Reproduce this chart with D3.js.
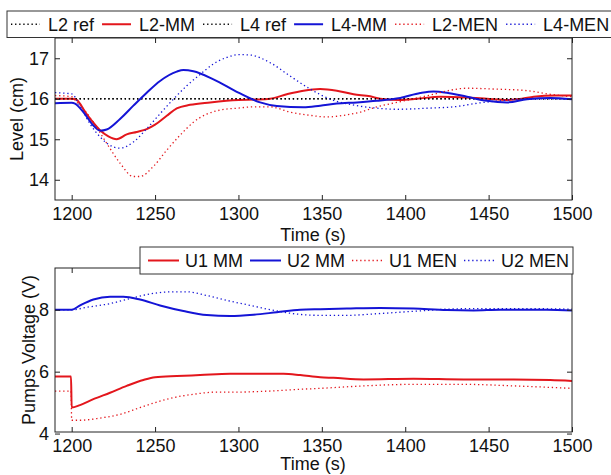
<!DOCTYPE html>
<html>
<head>
<meta charset="utf-8">
<script src="https://cdn.jsdelivr.net/npm/d3@7"></script>
<style>
  body { margin: 0; background: #fff; }
  svg { display: block; font-family: "Liberation Sans", Arial, sans-serif; }
</style>
</head>
<body>
<svg id="chart" width="611" height="475"></svg>
<script>
// Two stacked panels: tank levels and pump voltages, MM vs MEN controllers.

const timeTicks = [1200, 1250, 1300, 1350, 1400, 1450, 1500];
const levelTicks = [14, 15, 16, 17];
const voltTicks = [4, 6, 8];

// top panel series, [time (s), level (cm)]
const l2Ref = [[1190, 16], [1500, 16]];
const l4Ref = [[1190, 16], [1500, 16]];
const l2MM = [[1190, 16.0], [1200, 16.0], [1203, 15.97], [1208, 15.68], [1212, 15.46], [1217, 15.22],
  [1222, 15.07], [1227, 15.0], [1233, 15.12], [1239, 15.18], [1245, 15.25], [1250, 15.36],
  [1257, 15.58], [1263, 15.76], [1271, 15.85], [1283, 15.91], [1300, 15.97], [1310, 15.98],
  [1319, 16.0], [1329, 16.11], [1339, 16.2], [1349, 16.24], [1359, 16.2], [1369, 16.11],
  [1379, 16.06], [1385, 16.0], [1397, 15.97], [1407, 16.0], [1421, 16.05], [1437, 16.03],
  [1449, 16.0], [1461, 15.97], [1470, 16.0], [1477, 16.05], [1490, 16.08], [1500, 16.08]];
const l4MM = [[1190, 15.89], [1200, 15.9], [1202, 15.88], [1207, 15.67], [1213, 15.34], [1217, 15.21],
  [1221, 15.24], [1229, 15.5], [1237, 15.83], [1245, 16.15], [1253, 16.44], [1263, 16.67],
  [1267, 16.71], [1273, 16.68], [1285, 16.48], [1300, 16.15], [1313, 15.91], [1323, 15.82],
  [1339, 15.79], [1349, 15.83], [1359, 15.88], [1371, 15.91], [1383, 15.95], [1397, 16.02],
  [1409, 16.14], [1417, 16.18], [1425, 16.15], [1437, 16.05], [1449, 15.95], [1461, 15.91],
  [1473, 15.99], [1487, 16.02], [1500, 15.99]];
const l2MEN = [[1190, 16.08], [1200, 16.05], [1203, 15.92], [1208, 15.7], [1213, 15.42], [1221, 14.9],
  [1229, 14.41], [1237, 14.08], [1241, 14.08], [1249, 14.33], [1257, 14.73], [1265, 15.1],
  [1273, 15.42], [1281, 15.62], [1289, 15.72], [1300, 15.77], [1309, 15.8], [1319, 15.8],
  [1331, 15.67], [1343, 15.59], [1353, 15.55], [1363, 15.59], [1373, 15.67], [1383, 15.8],
  [1395, 15.91], [1405, 16.0], [1417, 16.11], [1427, 16.21], [1437, 16.26], [1453, 16.24],
  [1473, 16.2], [1487, 16.11], [1500, 16.05]];
const l4MEN = [[1190, 16.15], [1200, 16.12], [1205, 15.82], [1211, 15.38], [1217, 15.06], [1225, 14.81],
  [1229, 14.78], [1237, 14.93], [1245, 15.26], [1253, 15.63], [1261, 15.99], [1269, 16.32],
  [1277, 16.6], [1285, 16.86], [1293, 17.02], [1300, 17.09], [1307, 17.08], [1319, 16.89],
  [1331, 16.56], [1343, 16.24], [1355, 15.99], [1371, 15.83], [1385, 15.76], [1395, 15.74],
  [1415, 15.77], [1429, 15.8], [1445, 15.9], [1457, 15.95], [1475, 16.0], [1500, 16.0]];

// bottom panel series, [time (s), voltage (V)]
const u1MM = [[1190, 5.84], [1199.6, 5.84], [1200, 4.84], [1205, 4.92], [1213, 5.11], [1223, 5.32],
  [1233, 5.54], [1243, 5.73], [1250, 5.82], [1263, 5.86], [1277, 5.89], [1295, 5.93],
  [1313, 5.93], [1327, 5.93], [1337, 5.89], [1349, 5.82], [1357, 5.8], [1375, 5.75],
  [1405, 5.77], [1435, 5.75], [1465, 5.75], [1487, 5.73], [1500, 5.7]];
const u2MM = [[1190, 8.0], [1200, 8.0], [1205, 8.14], [1213, 8.33], [1223, 8.42], [1231, 8.42],
  [1241, 8.33], [1253, 8.14], [1267, 7.96], [1281, 7.83], [1295, 7.8], [1309, 7.84],
  [1323, 7.92], [1337, 8.0], [1349, 8.02], [1365, 8.04], [1385, 8.06], [1405, 8.04],
  [1425, 7.99], [1441, 7.98], [1457, 8.0], [1485, 8.0], [1500, 7.98]];
const u1MEN = [[1190, 5.37], [1199.6, 5.37], [1200, 4.43], [1205, 4.43], [1217, 4.5], [1229, 4.62],
  [1241, 4.84], [1250, 5.0], [1261, 5.16], [1273, 5.27], [1287, 5.34], [1300, 5.34],
  [1317, 5.37], [1337, 5.43], [1349, 5.46], [1375, 5.54], [1405, 5.59], [1435, 5.59],
  [1465, 5.54], [1500, 5.46]];
const u2MEN = [[1190, 8.0], [1200, 8.0], [1209, 8.08], [1223, 8.2], [1237, 8.39], [1249, 8.53],
  [1261, 8.58], [1269, 8.58], [1281, 8.46], [1295, 8.28], [1309, 8.12], [1323, 7.96],
  [1337, 7.85], [1349, 7.82], [1365, 7.82], [1385, 7.88], [1405, 7.95], [1425, 8.02],
  [1445, 8.04], [1465, 8.04], [1500, 8.02]];

const RED = '#e3161c';
const BLUE = '#1414d6';
const DOT = '1.3,2.8';
const FONT = 18;
const fmt = d3.format('d');

const svg = d3.select('#chart');
svg.append('rect').attr('width', 611).attr('height', 475).attr('fill', '#fff');

function drawPanel(p) {
  const x = d3.scaleLinear().domain([1190, 1500]).range([55, 572]);
  const y = d3.scaleLinear().domain(p.yDomain).range([p.bottom, p.top]);
  const g = svg.append('g');

  const clipId = 'clip-' + p.id;
  svg.append('clipPath').attr('id', clipId)
    .append('rect').attr('x', 55).attr('y', p.top).attr('width', 517).attr('height', p.bottom - p.top);

  const line = d3.line().x(d => x(d[0])).y(d => y(d[1])).curve(d3.curveMonotoneX);
  const plot = g.append('g').attr('clip-path', `url(#${clipId})`);
  p.series.forEach(s => {
    plot.append('path')
      .attr('d', line(s.data))
      .attr('fill', 'none')
      .attr('stroke', s.color)
      .attr('stroke-width', s.dotted ? 1.3 : 2)
      .attr('stroke-dasharray', s.dotted ? DOT : null)
      .attr('stroke-linejoin', 'round');
  });

  // box and inward ticks on all four sides
  const axisColor = '#222';
  const bottomAxis = d3.axisBottom(x).tickValues(timeTicks).tickFormat(fmt).tickSizeInner(-5).tickSizeOuter(0).tickPadding(7);
  const topAxis = d3.axisTop(x).tickValues(timeTicks).tickSizeInner(-5).tickSizeOuter(0).tickFormat('');
  const leftAxis = d3.axisLeft(y).tickValues(p.yTicks).tickFormat(fmt).tickSizeInner(-5).tickSizeOuter(0).tickPadding(6);
  const rightAxis = d3.axisRight(y).tickValues(p.yTicks).tickSizeInner(-5).tickSizeOuter(0).tickFormat('');

  g.append('g').attr('transform', `translate(0,${p.bottom})`).call(bottomAxis);
  g.append('g').attr('transform', `translate(0,${p.top})`).call(topAxis);
  g.append('g').attr('transform', 'translate(55,0)').call(leftAxis);
  g.append('g').attr('transform', 'translate(572,0)').call(rightAxis);
  g.selectAll('.domain').remove();
  g.selectAll('.tick line').attr('stroke', axisColor);
  g.selectAll('.tick text').attr('font-size', FONT).attr('font-family', 'Liberation Sans, Arial, sans-serif').attr('fill', '#111');
  g.append('rect')
    .attr('x', 55).attr('y', p.top).attr('width', 517).attr('height', p.bottom - p.top)
    .attr('fill', 'none').attr('stroke', axisColor).attr('stroke-width', 1);

  g.append('text')
    .attr('x', 313).attr('y', p.xLabelY)
    .attr('text-anchor', 'middle').attr('font-size', FONT).attr('fill', '#111')
    .text('Time (s)');
  g.append('text')
    .attr('transform', `translate(${p.yLabelX},${(p.top + p.bottom) / 2}) rotate(-90)`)
    .attr('text-anchor', 'middle').attr('font-size', FONT).attr('fill', '#111')
    .text(p.yLabel);

  // legend, laid out left to right from measured text widths
  const lg = svg.append('g');
  const box = lg.append('rect')
    .attr('x', p.legend.x).attr('y', p.legend.y).attr('height', p.legend.h)
    .attr('fill', '#fff').attr('stroke', '#333').attr('stroke-width', 1);
  let cx = p.legend.x + p.legend.pad;
  const midY = p.legend.y + p.legend.h / 2;
  p.series.forEach(s => {
    lg.append('line')
      .attr('x1', cx).attr('x2', cx + p.legend.sample)
      .attr('y1', midY).attr('y2', midY)
      .attr('stroke', s.color)
      .attr('stroke-width', s.dotted ? 1.3 : 2)
      .attr('stroke-dasharray', s.dotted ? DOT : null);
    cx += p.legend.sample + p.legend.gap1;
    const t = lg.append('text')
      .attr('x', cx).attr('y', midY + 6.5)
      .attr('font-size', FONT).attr('fill', '#111')
      .text(s.name);
    cx += t.node().getComputedTextLength() + p.legend.gap2;
  });
  box.attr('width', p.legend.w || (cx - p.legend.x));
}

drawPanel({
  id: 'level', top: 38, bottom: 200, yDomain: [13.5, 17.5], yTicks: levelTicks,
  yLabel: 'Level (cm)', yLabelX: 23, xLabelY: 241,
  legend: { x: 7, y: 11, h: 26.5, w: 620, pad: 4, sample: 29, gap1: 8, gap2: 8 },
  series: [
    { name: 'L2 ref', data: l2Ref, color: '#000', dotted: true },
    { name: 'L2-MM', data: l2MM, color: RED, dotted: false },
    { name: 'L4 ref', data: l4Ref, color: '#000', dotted: true },
    { name: 'L4-MM', data: l4MM, color: BLUE, dotted: false },
    { name: 'L2-MEN', data: l2MEN, color: RED, dotted: true },
    { name: 'L4-MEN', data: l4MEN, color: BLUE, dotted: true }
  ]
});

drawPanel({
  id: 'volt', top: 268, bottom: 432, yDomain: [4.05, 9.35], yTicks: voltTicks,
  yLabel: 'Pumps Voltage (V)', yLabelX: 35, xLabelY: 470,
  legend: { x: 140, y: 247, h: 27, w: 433, pad: 8, sample: 31, gap1: 6, gap2: 7 },
  series: [
    { name: 'U1 MM', data: u1MM, color: RED, dotted: false },
    { name: 'U2 MM', data: u2MM, color: BLUE, dotted: false },
    { name: 'U1 MEN', data: u1MEN, color: RED, dotted: true },
    { name: 'U2 MEN', data: u2MEN, color: BLUE, dotted: true }
  ]
});
</script>
</body>
</html>
